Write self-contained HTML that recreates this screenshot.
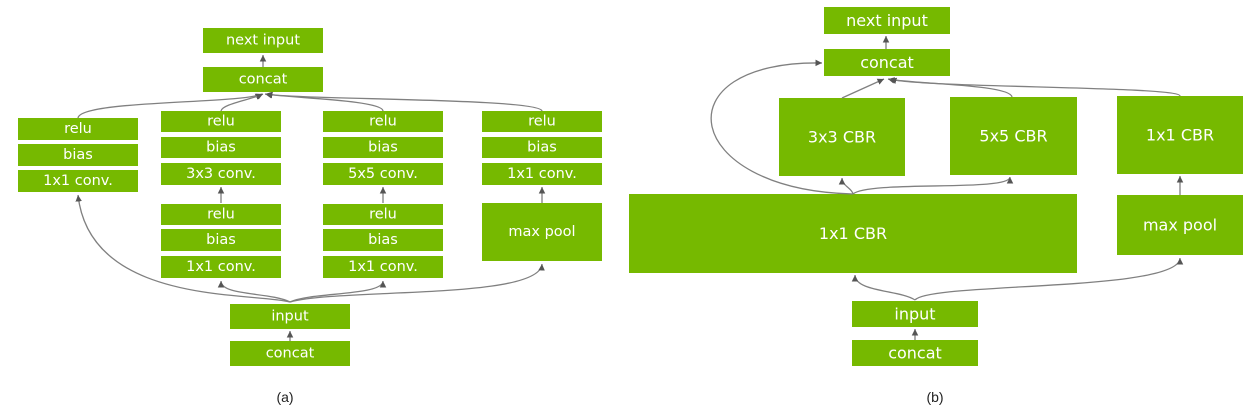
<!DOCTYPE html>
<html><head><meta charset="utf-8"><style>
html,body{margin:0;padding:0;background:#fff;width:1245px;height:415px;overflow:hidden}
svg{display:block}
.b{fill:#76b900}
.t{fill:#fff;font-family:"DejaVu Sans","Liberation Sans",sans-serif;font-size:14.5px;text-anchor:middle;dominant-baseline:central}
.t2{font-size:16px}
.l{fill:none;stroke:#808080;stroke-width:1.3}
.c{fill:#222;font-family:"Liberation Sans",sans-serif;font-size:14px;text-anchor:middle}
</style></head><body>
<svg width="1245" height="415" viewBox="0 0 1245 415">
<defs><marker id="a" markerWidth="6" markerHeight="6" refX="5" refY="3" orient="auto"><path d="M0,0.5 L5,3 L0,5.5z" fill="#555"/></marker></defs>
<g id="boxes"></g>
<g>
<path class="l" marker-end="url(#a)" d="M290,302 C250,292 90,305 78,195"/>
<path class="l" marker-end="url(#a)" d="M290,302 C270,292 221,296 221,281"/>
<path class="l" marker-end="url(#a)" d="M290,302 C310,292 383,296 383,281"/>
<path class="l" marker-end="url(#a)" d="M290,302 C340,288 540,300 542,264"/>
<path class="l" marker-end="url(#a)" d="M221,203 L221,187"/>
<path class="l" marker-end="url(#a)" d="M383,203 L383,187"/>
<path class="l" marker-end="url(#a)" d="M542,203 L542,187"/>
<path class="l" marker-end="url(#a)" d="M78,118 C80,100 240,104 262,94"/>
<path class="l" marker-end="url(#a)" d="M221,111 C222,104 250,100 263,94"/>
<path class="l" marker-end="url(#a)" d="M383,111 C383,100 290,98 265,94"/>
<path class="l" marker-end="url(#a)" d="M542,111 C540,98 300,100 266,94"/>
<path class="l" marker-end="url(#a)" d="M263,67 L263,55"/>
<path class="l" marker-end="url(#a)" d="M290,341 L290,331"/>
</g>
<g>
<path class="l" marker-end="url(#a)" d="M915,300 C900,290 855,292 855,275"/>
<path class="l" marker-end="url(#a)" d="M915,300 C930,282 1180,292 1180,258"/>
<path class="l" marker-end="url(#a)" d="M853,194 C852,188 842,186 842,178"/>
<path class="l" marker-end="url(#a)" d="M853,194 C870,180 1010,192 1010,177"/>
<path class="l" marker-end="url(#a)" d="M853,194 C680,190 660,60 822,63"/>
<path class="l" marker-end="url(#a)" d="M842,98 L884,79"/>
<path class="l" marker-end="url(#a)" d="M1012,97 C1010,84 910,84 888,79"/>
<path class="l" marker-end="url(#a)" d="M1180,96 C1180,86 920,88 890,79"/>
<path class="l" marker-end="url(#a)" d="M1180,195 L1180,176"/>
<path class="l" marker-end="url(#a)" d="M886,49 L886,36"/>
<path class="l" marker-end="url(#a)" d="M915,340 L915,329"/>
</g>
<text class="c" x="285" y="402">(a)</text>
<text class="c" x="935" y="402">(b)</text>
</svg>
<script>
const boxes=[
["next input",203,28,120,25,"a-next-input"],["concat",203,67,120,25,"a-concat-top"],
["relu",18,118,120,22,"a-col1-relu"],["bias",18,144,120,22,"a-col1-bias"],["1x1 conv.",18,170,120,22,"a-col1-conv"],
["relu",161,111,120,21,"a-col2-relu"],["bias",161,137,120,21,"a-col2-bias"],["3x3 conv.",161,163,120,22,"a-col2-conv"],
["relu",161,204,120,21,"a-col2-relu-2"],["bias",161,229,120,22,"a-col2-bias-2"],["1x1 conv.",161,256,120,22,"a-col2-conv-2"],
["relu",323,111,120,21,"a-col3-relu"],["bias",323,137,120,21,"a-col3-bias"],["5x5 conv.",323,163,120,22,"a-col3-conv"],
["relu",323,204,120,21,"a-col3-relu-2"],["bias",323,229,120,22,"a-col3-bias-2"],["1x1 conv.",323,256,120,22,"a-col3-conv-2"],
["relu",482,111,120,21,"a-col4-relu"],["bias",482,137,120,21,"a-col4-bias"],["1x1 conv.",482,163,120,22,"a-col4-conv"],
["max pool",482,203,120,58,"a-max-pool"],
["input",230,304,120,25,"a-input"],["concat",230,341,120,25,"a-concat-bottom"],
["next input",824,7,126,27,"b-next-input"],["concat",824,49,126,27,"b-concat-top"],
["3x3 CBR",779,98,126,78,"b-3x3-cbr"],["5x5 CBR",950,97,127,78,"b-5x5-cbr"],["1x1 CBR",1117,96,126,78,"b-1x1-cbr-right"],
["1x1 CBR",629,194,448,79,"b-1x1-cbr-wide"],["max pool",1117,195,126,60,"b-max-pool"],
["input",852,301,126,26,"b-input"],["concat",852,340,126,26,"b-concat-bottom"]];
const g=document.getElementById('boxes');const ns='http://www.w3.org/2000/svg';
boxes.forEach(b=>{
const grp=document.createElementNS(ns,'g');


const r=document.createElementNS(ns,'rect');
r.setAttribute('class','b');r.setAttribute('x',b[1]);r.setAttribute('y',b[2]);r.setAttribute('width',b[3]);r.setAttribute('height',b[4]);
const t=document.createElementNS(ns,'text');
t.setAttribute('class',b[5].startsWith('b-')?'t t2':'t');t.setAttribute('x',b[1]+b[3]/2);t.setAttribute('y',b[2]+b[4]/2);
t.textContent=b[0];
grp.appendChild(r);grp.appendChild(t);g.appendChild(grp);
});
</script>
</body></html>
